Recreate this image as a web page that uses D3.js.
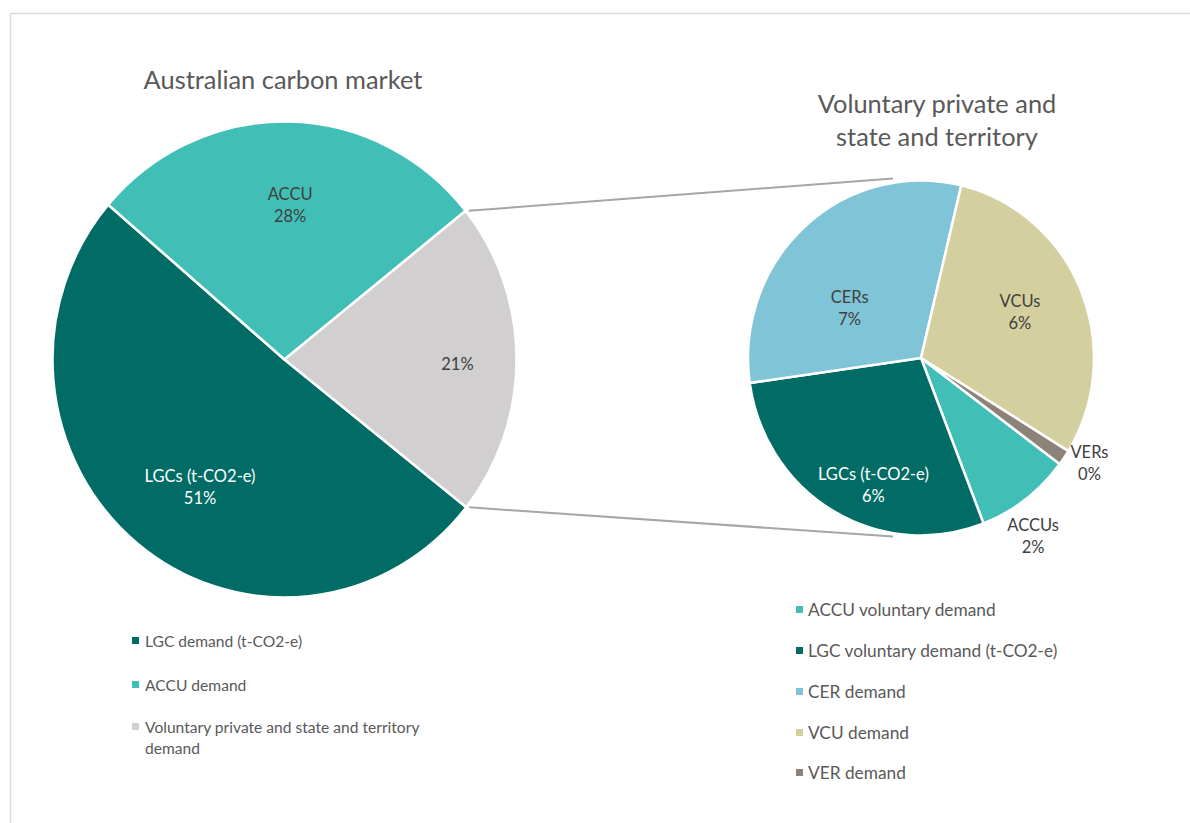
<!DOCTYPE html>
<html><head><meta charset="utf-8">
<script src="https://cdn.jsdelivr.net/npm/d3@7/dist/d3.min.js"></script>
<style>body{margin:0;background:#fff;}svg{display:block;font-family:Lato,"Open Sans",sans-serif;}</style>
</head><body>
<svg id="c" width="1190" height="823"></svg>
<script>
// Main pie
const mainCategories = ["LGC demand (t-CO2-e)", "ACCU demand", "Voluntary private and state and territory demand"];
const mainLabels = ["LGCs (t-CO2-e)", "ACCU", ""];
const mainValues = [50.6, 28.0, 21.4];
const mainColors = ["#016c65", "#41bfb6", "#d1cfd0"];
// Secondary pie
const subCategories = ["ACCU voluntary demand", "LGC voluntary demand (t-CO2-e)", "CER demand", "VCU demand", "VER demand"];
const subLabels = ["ACCUs", "LGCs (t-CO2-e)", "CERs", "VCUs", "VERs"];
const subValues = [1.9, 6.1, 6.6, 6.4, 0.3];
const subColors = ["#41bfb6", "#016c65", "#80c4d7", "#d3cf9f", "#8c8279"];

const svg = d3.select("#c");
const textGrey = "#595959";
const ky = 1.026;
const total = d3.sum(mainValues);
const fmt = v => Math.round(v / total * 100) + "%";

svg.append("rect").attr("x", 10.5).attr("y", 13.5).attr("width", 1200).attr("height", 900)
  .attr("fill", "none").attr("stroke", "#d9d9d9").attr("stroke-width", 1.5);

const M = {cx: 284.5, cy: 359.5, r: 232};
const S = {cx: 921, cy: 358, r: 173};

const deg = Math.PI / 180;
const mainPie = d3.pie().sort(null).value(d => d).startAngle(128.4 * deg).endAngle(128.4 * deg + 2 * Math.PI);
const subPie = d3.pie().sort(null).value(d => d).startAngle(126.7 * deg).endAngle(126.7 * deg + 2 * Math.PI);

const mArcs = mainPie(mainValues);
const sArcs = subPie(subValues);

const arcM = d3.arc().innerRadius(0).outerRadius(M.r);
const arcS = d3.arc().innerRadius(0).outerRadius(S.r);

// connector lines from the split points of the voluntary slice to the secondary pie
const vol = mArcs[2];
const pt = (c, r, a) => [c.cx + r * Math.sin(a), c.cy - r * Math.cos(a) * ky];
const pUp = pt(M, M.r, vol.startAngle), pDown = pt(M, M.r, vol.endAngle);
const off = -28;
const topPt = [S.cx + off, S.cy - S.r * ky - 2];
const botPt = [S.cx + off, S.cy + S.r * ky + 1];
svg.append("line").attr("x1", pUp[0] + 3).attr("y1", pUp[1]).attr("x2", topPt[0]).attr("y2", topPt[1])
  .attr("stroke", "#a6a6a6").attr("stroke-width", 2);
svg.append("line").attr("x1", pDown[0] + 3).attr("y1", pDown[1]).attr("x2", botPt[0]).attr("y2", botPt[1])
  .attr("stroke", "#a6a6a6").attr("stroke-width", 2);

const gM = svg.append("g").attr("transform", `translate(${M.cx},${M.cy}) scale(1,${ky})`);
gM.selectAll("path").data(mArcs).join("path").attr("d", arcM)
  .attr("fill", (d, i) => mainColors[i]).attr("stroke", "#fff").attr("stroke-width", 2.5).attr("stroke-linejoin", "round");

const gS = svg.append("g").attr("transform", `translate(${S.cx},${S.cy}) scale(1,${ky})`);
gS.selectAll("path").data(sArcs).join("path").attr("d", arcS)
  .attr("fill", (d, i) => subColors[i]).attr("stroke", "#fff").attr("stroke-width", 2.5).attr("stroke-linejoin", "round");

// labels
const LS = 22, FS = 16.5;
function label(x, y, lines, color) {
  const t = svg.append("text").attr("x", x).attr("y", y - (lines.length - 1) * LS / 2 + 6).attr("text-anchor", "middle")
    .attr("font-size", FS).attr("fill", color);
  lines.forEach((l, i) => t.append("tspan").attr("x", x).attr("dy", i === 0 ? 0 : LS).text(l));
}
const mainLabelR = [0.62, 0.68, 0.75];
const mainAdj = [[7, 14], [3, 7], [-1, 5]];
mArcs.forEach((a, i) => {
  const mid = (a.startAngle + a.endAngle) / 2;
  const r = M.r * mainLabelR[i];
  const x = M.cx + r * Math.sin(mid) + mainAdj[i][0], y = M.cy - r * Math.cos(mid) * ky + mainAdj[i][1];
  const lines = mainLabels[i] ? [mainLabels[i], fmt(a.value)] : [fmt(a.value)];
  label(x, y, lines, i === 0 ? "#ffffff" : "#404040");
});
const subLabelR = [1.08, 0.67, 0.57, 0.6, 1.17];
const subAdj = [[-1, 25], [11, 24], [-5, 25], [3, -5], [1, -12]];
sArcs.forEach((a, i) => {
  const mid = (a.startAngle + a.endAngle) / 2;
  const r = S.r * subLabelR[i];
  const x = S.cx + r * Math.sin(mid) + subAdj[i][0], y = S.cy - r * Math.cos(mid) * ky + subAdj[i][1];
  label(x, y, [subLabels[i], fmt(a.value)], i === 1 ? "#ffffff" : "#404040");
});

// titles
svg.append("text").attr("x", 283).attr("y", 89).attr("text-anchor", "middle")
  .attr("font-size", 25.4).attr("fill", textGrey).text("Australian carbon market");
const t2 = svg.append("text").attr("x", 937).attr("y", 113).attr("text-anchor", "middle")
  .attr("font-size", 25.4).attr("fill", textGrey);
t2.append("tspan").attr("x", 937).attr("dy", 0).text("Voluntary private and");
t2.append("tspan").attr("x", 937).attr("dy", 33).text("state and territory");

// legends
const legL = svg.append("g");
const leftRows = [[mainCategories[0]], [mainCategories[1]], ["Voluntary private and state and territory", "demand"]];
const leftY = [641, 685, 727];
leftRows.forEach((lines, i) => {
  legL.append("rect").attr("x", 132).attr("y", leftY[i] - 4).attr("width", 7).attr("height", 7).attr("fill", mainColors[i]);
  const t = legL.append("text").attr("x", 145).attr("y", leftY[i] + 6).attr("font-size", 15.6).attr("fill", textGrey);
  lines.forEach((l, j) => t.append("tspan").attr("x", 145).attr("dy", j === 0 ? 0 : 20.5).text(l));
});
const legR = svg.append("g");
const rightY = [610, 651, 692, 733, 773];
subCategories.forEach((c, i) => {
  legR.append("rect").attr("x", 796).attr("y", rightY[i] - 4).attr("width", 7).attr("height", 7).attr("fill", subColors[i]);
  legR.append("text").attr("x", 808).attr("y", rightY[i] + 6).attr("font-size", 17.3).attr("fill", textGrey).text(c);
});
</script>
</body></html>
